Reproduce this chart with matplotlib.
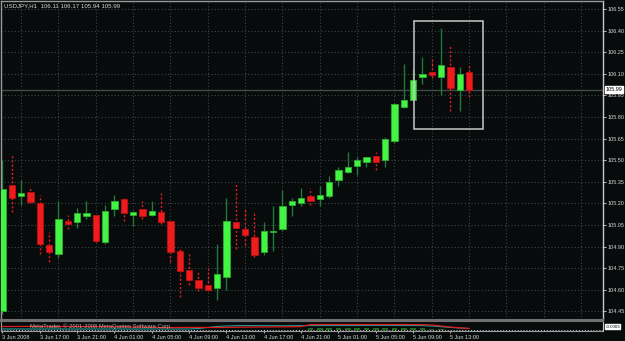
import matplotlib
matplotlib.use('Agg')
import matplotlib.pyplot as plt
import numpy as np

# data USDJPY H1, bar 0 = 3 Jun 2008 13:00
opens = [104.45, 105.33, 105.25, 105.28, 105.20, 104.91, 104.85, 105.08, 105.07, 105.11,
         105.12, 104.93, 105.16, 105.23, 105.12, 105.16, 105.12, 105.14, 105.08, 104.87,
         104.74, 104.67, 104.63, 104.61, 104.69, 105.07, 105.02, 104.97, 104.86, 105.00,
         105.02, 105.19, 105.20, 105.25, 105.23, 105.25, 105.36, 105.42, 105.46, 105.49,
         105.53, 105.50, 105.63, 105.87, 105.92, 106.08, 106.11, 106.08, 106.15, 105.99,
         106.11]
highs = [105.50, 105.54, 105.36, 105.32, 105.26, 105.00, 105.22, 105.12, 105.17, 105.22,
         105.13, 105.19, 105.26, 105.24, 105.15, 105.22, 105.22, 105.27, 105.08, 104.89,
         104.86, 104.72, 104.75, 104.92, 105.24, 105.34, 105.16, 105.13, 105.07, 105.18,
         105.29, 105.24, 105.31, 105.31, 105.32, 105.39, 105.45, 105.56, 105.52, 105.52,
         105.56, 105.66, 105.90, 106.17, 106.13, 106.22, 106.21, 106.42, 106.30, 106.15,
         106.17]
lows = [104.43, 105.14, 105.19, 105.20, 104.85, 104.79, 104.82, 105.02, 105.03, 105.09,
        104.93, 104.92, 105.11, 105.08, 105.04, 105.09, 105.11, 105.06, 104.79, 104.55,
        104.63, 104.59, 104.59, 104.53, 104.60, 104.88, 104.91, 104.83, 104.84, 104.87,
        105.01, 105.11, 105.18, 105.19, 105.18, 105.24, 105.32, 105.41, 105.40, 105.45,
        105.43, 105.45, 105.62, 105.86, 105.91, 106.03, 106.07, 105.95, 105.84, 105.84,
        105.94]
closes = [105.30, 105.24, 105.27, 105.21, 104.92, 104.86, 105.09, 105.06, 105.13, 105.13,
          104.94, 105.15, 105.22, 105.13, 105.14, 105.11, 105.15, 105.07, 104.86, 104.73,
          104.67, 104.61, 104.60, 104.71, 105.08, 105.03, 104.98, 104.84, 105.01, 105.01,
          105.18, 105.215, 105.24, 105.22, 105.26, 105.35, 105.43, 105.45, 105.50, 105.52,
          105.49, 105.65, 105.89, 105.92, 106.06, 106.10, 106.09, 106.16, 106.00, 106.10,
          105.99]

price_ticks = [104.45, 104.60, 104.75, 104.90, 105.05, 105.20, 105.35, 105.50,
               105.65, 105.80, 105.95, 106.10, 106.25, 106.40, 106.55]
time_labels = ['3 Jun 2008', '3 Jun 17:00', '3 Jun 21:00', '4 Jun 01:00', '4 Jun 05:00',
               '4 Jun 09:00', '4 Jun 13:00', '4 Jun 17:00', '4 Jun 21:00', '5 Jun 01:00',
               '5 Jun 05:00', '5 Jun 09:00', '5 Jun 13:00']
time_ticks = [0, 4, 8, 12, 16, 20, 24, 28, 32, 36, 40, 44, 48]

# kotak yang digambar user
box_time = [44.1, 51.5]
box_price = [105.72, 106.47]

# indikator di jendela bawah (kira-kira)
ind_red = [4.5, 4.5, 4.6, 4.6, 4.5, 4.4, 4.4, 4.5, 4.5, 4.5, 4.4, 4.3, 4.3, 4.2, 4.0, 3.8,
           3.6, 3.4, 3.4, 3.5, 3.6, 3.6, 3.5, 3.5, 3.6, 3.8, 3.9, 4.0, 4.0, 4.1, 4.2, 4.3,
           4.4, 6.4, 6.5, 6.5, 6.5, 6.5, 6.5, 6.5, 6.5, 6.5, 6.5, 6.5, 6.4, 6.3, 6.0, 5.0,
           4.0, 3.2, 2.5]
ind_cyan = [2.0, 2.0, 2.0, 2.0, 2.0, 2.0, 2.0, 2.0, 2.0, 2.0, 2.0, 2.0, 2.0, 2.0, 2.0, 2.0,
            2.0, 2.0, 2.0, 2.0, 2.0, 2.5, 3.5, 4.5, 5.0, 5.3, 5.4, 5.4, 5.3, 5.3, 5.2, 5.2,
            5.3, 5.4, 5.5, 5.5, 5.5, 5.5, 5.5, 5.6, 5.6, 5.6, 5.6, 5.5, 5.5, 5.4, 5.0, 4.3,
            3.6, 3.0, 2.5]
ind_hist = [0, 0, 0, 0, 0, 0, 0, 0, 0, 0, 0, 0, 0, 0, 0, 0, 0, 0, 0, 0, 0, 0, 0, 0, 0,
            0, 0, 0, 0, 0, 0, 0, 0, 1.5, 1.5, 1.5, 1.5, 1.5, 1.5, 1.5, 1.5, 1.5, 1.5,
            1.5, 1.5, 1.5, 1.2, 1.0, 0, 0, 0]

bg = '#070b0b'
grid_col = '#3a4646'
txt_col = '#d8d8d8'
up_col = '#44f444'
dn_col = '#ee1c1c'
fs = 4.0
plt.rcParams['font.family'] = ['Liberation Sans', 'DejaVu Sans']

W, H = 625, 341
fig = plt.figure(figsize=(W / 100, H / 100), dpi=100, facecolor=bg)
ax = fig.add_axes([1 / W, 1 - 320 / H, 602 / W, 319 / H], facecolor=bg)
sub = fig.add_axes([1 / W, 1 - 331 / H, 602 / W, 10 / H], facecolor=bg, sharex=ax)

x = np.arange(len(opens))
o = np.array(opens)
c = np.array(closes)
hi = np.array(highs)
lo = np.array(lows)
up = c >= o

# grid
ax.set_yticks(price_ticks)
ax.grid(axis='y', color=grid_col, ls=(0, (1, 2)), lw=0.8)
for g in np.arange(2, 65, 4):
    ax.axvline(g, color=grid_col, ls=(0, (1, 2)), lw=0.8, zorder=0)

# garis bid
ax.axhline(closes[-1], color='#3e4c44', lw=1, zorder=1)

# sumbu candle
for i in x:
    if up[i]:
        ax.vlines(i, lo[i], hi[i], color='#1d7a38', lw=1, zorder=2)
    else:
        ax.vlines(i, lo[i], hi[i], color=dn_col, lw=1, ls=(0, (1.5, 1.5)), zorder=2)

bottom = np.minimum(o, c)
height = np.maximum(np.abs(c - o), 0.008)
ax.bar(x[up], height[up], bottom=bottom[up], width=0.68, color=up_col,
       edgecolor='#2cb02c', lw=0.6, zorder=3)
ax.bar(x[~up], height[~up], bottom=bottom[~up], width=0.68, color=dn_col,
       edgecolor='#c01010', lw=0.6, zorder=3)

# kotak
ax.add_patch(plt.Rectangle((box_time[0], box_price[0]), box_time[1] - box_time[0],
                           box_price[1] - box_price[0], fill=False, ec='#c8c8c8', lw=1.1, zorder=4))

ax.set_xlim(-0.16, 64.36)
ax.set_ylim(104.39, 106.606)

ax.yaxis.tick_right()
ax.set_yticklabels([f'{p:.2f}' for p in price_ticks])
ax.tick_params(axis='y', colors='#b0b0b0', labelcolor=txt_col, labelsize=fs, length=2.2,
               width=0.8, pad=0.8)
ax.tick_params(axis='x', bottom=False, labelbottom=False)
for s in ['top', 'left', 'right']:
    ax.spines[s].set_color('#9a9a9a')
    ax.spines[s].set_linewidth(1)
ax.spines['right'].set_color('#c8c8c8')
ax.spines['bottom'].set_color('#707070')
ax.spines['bottom'].set_linewidth(1.5)

# label harga sekarang
ax.text(1.004, closes[-1], f'{closes[-1]:.2f}', transform=ax.get_yaxis_transform(),
        ha='left', va='center', fontsize=fs, color='black',
        bbox=dict(boxstyle='square,pad=0.15', fc='white', ec='white'), zorder=6, clip_on=False)

fig.text(4 / W, 1 - 6 / H, f'USDJPY,H1  {opens[-1]:.2f} {highs[-1]:.2f} {lows[-1]:.2f} {closes[-1]:.2f}',
         color=txt_col, fontsize=4.4, ha='left', va='center')

# jendela indikator
sub.bar(x, ind_hist, bottom=1.2, width=0.6, color='#1a6a1a', zorder=1)
sub.plot(x, ind_cyan, color='#20a0a0', lw=0.8, zorder=2)
sub.plot(x, ind_red, color='#e01818', lw=0.9, zorder=3)
sub.axhline(0.6, color='#cfcfcf', ls=(0, (1, 2)), lw=0.7)
sub.text(3, 5, 'MetaTrader, \u00a9 2001-2008 MetaQuotes Software Corp.', color='#d0d0d0',
         fontsize=4.2, va='center', ha='left', zorder=4, alpha=0.8)
sub.set_ylim(0, 10)
sub.set_yticks([])
sub.set_xticks(time_ticks)
sub.set_xticklabels(time_labels, ha='left')
sub.tick_params(axis='x', colors='#b0b0b0', labelcolor=txt_col, labelsize=fs, length=1.6,
                width=0.8, pad=1.0)
for s in ['top', 'left', 'right', 'bottom']:
    sub.spines[s].set_color('#9a9a9a')
sub.spines['top'].set_color('#707070')
sub.spines['top'].set_linewidth(1.5)
sub.spines['right'].set_color('#c8c8c8')
sub.text(1.004, 0.45, '-0.0003', transform=sub.transAxes, fontsize=3.2, color='black',
         va='center', ha='left', bbox=dict(boxstyle='square,pad=0.1', fc='white', ec='white'),
         clip_on=False)

fig.savefig('out.png', dpi=100, facecolor=bg)
